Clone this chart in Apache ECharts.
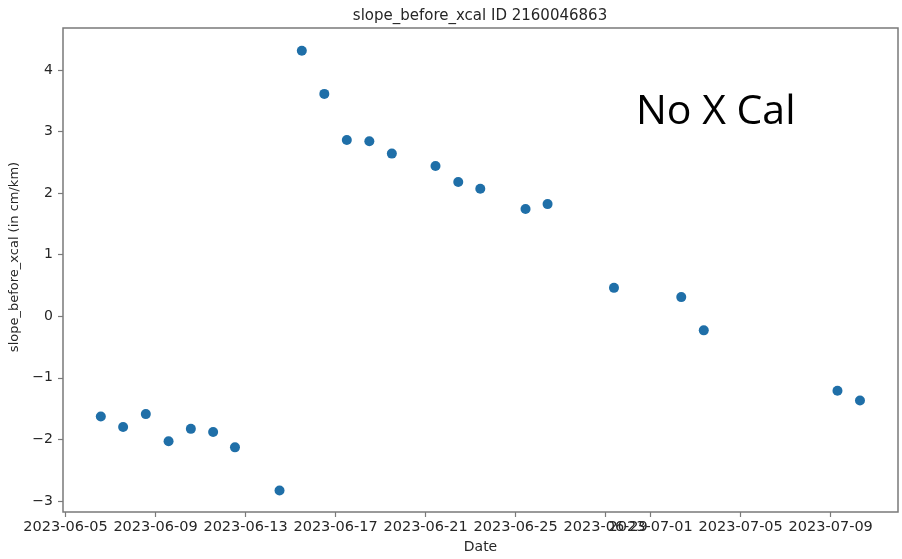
<!DOCTYPE html>
<html>
<head>
<meta charset="utf-8">
<script src="https://cdn.jsdelivr.net/npm/echarts@6/dist/echarts.min.js"></script>
<style>html,body{margin:0;padding:0;background:#fff}#c{width:902px;height:559px}</style>
</head>
<body>
<div id="c"></div>
<script>
// ---- data ----
const dates = [
  '2023-06-06T13:40:00Z','2023-06-07T13:26:00Z','2023-06-08T13:40:00Z','2023-06-09T13:55:00Z',
  '2023-06-10T13:40:00Z','2023-06-11T13:26:00Z','2023-06-12T12:43:00Z','2023-06-14T12:14:00Z',
  '2023-06-15T12:00:00Z','2023-06-16T12:00:00Z','2023-06-17T12:00:00Z','2023-06-18T12:00:00Z',
  '2023-06-19T12:00:00Z','2023-06-21T10:34:00Z','2023-06-22T10:48:00Z','2023-06-23T10:19:00Z',
  '2023-06-25T10:34:00Z','2023-06-26T10:05:00Z','2023-06-29T08:53:00Z','2023-07-02T08:38:00Z',
  '2023-07-03T08:38:00Z','2023-07-09T07:12:00Z','2023-07-10T07:12:00Z'
];
const slopes = [
  -1.63, -1.80, -1.59, -2.03, -1.83, -1.88, -2.13, -2.83,
  4.31, 3.61, 2.86, 2.84, 2.64, 2.44, 2.18, 2.07,
  1.74, 1.82, 0.46, 0.31, -0.23, -1.21, -1.37
];
const xTickLabels = ['2023-06-05','2023-06-09','2023-06-13','2023-06-17','2023-06-21',
  '2023-06-25','2023-06-29','2023-07-01','2023-07-05','2023-07-09'];
const yTicks = [-3, -2, -1, 0, 1, 2, 3, 4];
const titleText = 'slope_before_xcal ID 2160046863';
const yName = 'slope_before_xcal (in cm/km)';
const xName = 'Date';
const annotation = 'No X Cal';

const xMin = Date.parse('2023-06-04T21:20:00Z');
const xMax = Date.parse('2023-07-11T23:45:00Z');
const yMin = -3.18, yMax = 4.68;

const toMs = s => Date.parse(s);
const xTicks = xTickLabels.map(s => Date.parse(s + 'T00:00:00Z'));
const pad = n => (n < 10 ? '0' : '') + n;
const fmtDate = v => { const d = new Date(v); return d.getUTCFullYear() + '-' + pad(d.getUTCMonth()+1) + '-' + pad(d.getUTCDate()); };

const chart = echarts.init(document.getElementById('c'), null, {renderer:'canvas'});
const FONT = 'DejaVu Sans';
const TXT = '#262626';
const AX = '#7a7a7a';

chart.setOption({
  animation: false,
  backgroundColor: '#fff',
  textStyle: {fontFamily: FONT},
  grid: {left: 63, top: 28, right: 4, bottom: 47, show: true, borderColor: AX, borderWidth: 1.5,
    backgroundColor: 'transparent', containLabel: false, outerBoundsMode: 'none'},
  xAxis: {
    type: 'value', min: xMin, max: xMax,
    name: xName, nameLocation: 'middle', nameGap: 26,
    nameTextStyle: {fontFamily: FONT, fontSize: 14, color: TXT},
    axisLine: {show: false, onZero: false},
    splitLine: {show: false},
    axisTick: {show: true, length: 5, lineStyle: {color: AX, width: 1.2}, customValues: xTicks},
    axisLabel: {fontFamily: FONT, fontSize: 14.5, color: TXT, margin: 8, customValues: xTicks, formatter: v => fmtDate(v), hideOverlap: false}
  },
  yAxis: {
    type: 'value', min: yMin, max: yMax,
    name: yName, nameLocation: 'middle', nameGap: 38, nameRotate: 90,
    nameTextStyle: {fontFamily: FONT, fontSize: 13, color: TXT, padding: [0, 0, 0, 26]},
    axisLine: {show: false, onZero: false},
    splitLine: {show: false},
    axisTick: {show: true, length: 5, lineStyle: {color: AX, width: 1.2}, customValues: yTicks},
    axisLabel: {fontFamily: FONT, fontSize: 14, color: TXT, margin: 10, customValues: yTicks,
      formatter: v => (v < 0 ? '\u2212' + Math.abs(v) : String(v))}
  },
  series: [{
    type: 'scatter',
    data: dates.map((d, i) => [toMs(d), slopes[i]]),
    symbol: 'circle', symbolSize: 10,
    itemStyle: {color: '#1f6fa8', opacity: 1}
  }],
  graphic: [
    {type: 'text', x: 480, y: 9, style: {text: titleText, font: '15px "DejaVu Sans"', fill: TXT, textAlign: 'center'}, z: 10},
    {type: 'text', left: 636, top: 92, style: {text: annotation, font: '41px "Open Sans"', fill: '#000'}, z: 10}
  ]
});
</script>
</body>
</html>
